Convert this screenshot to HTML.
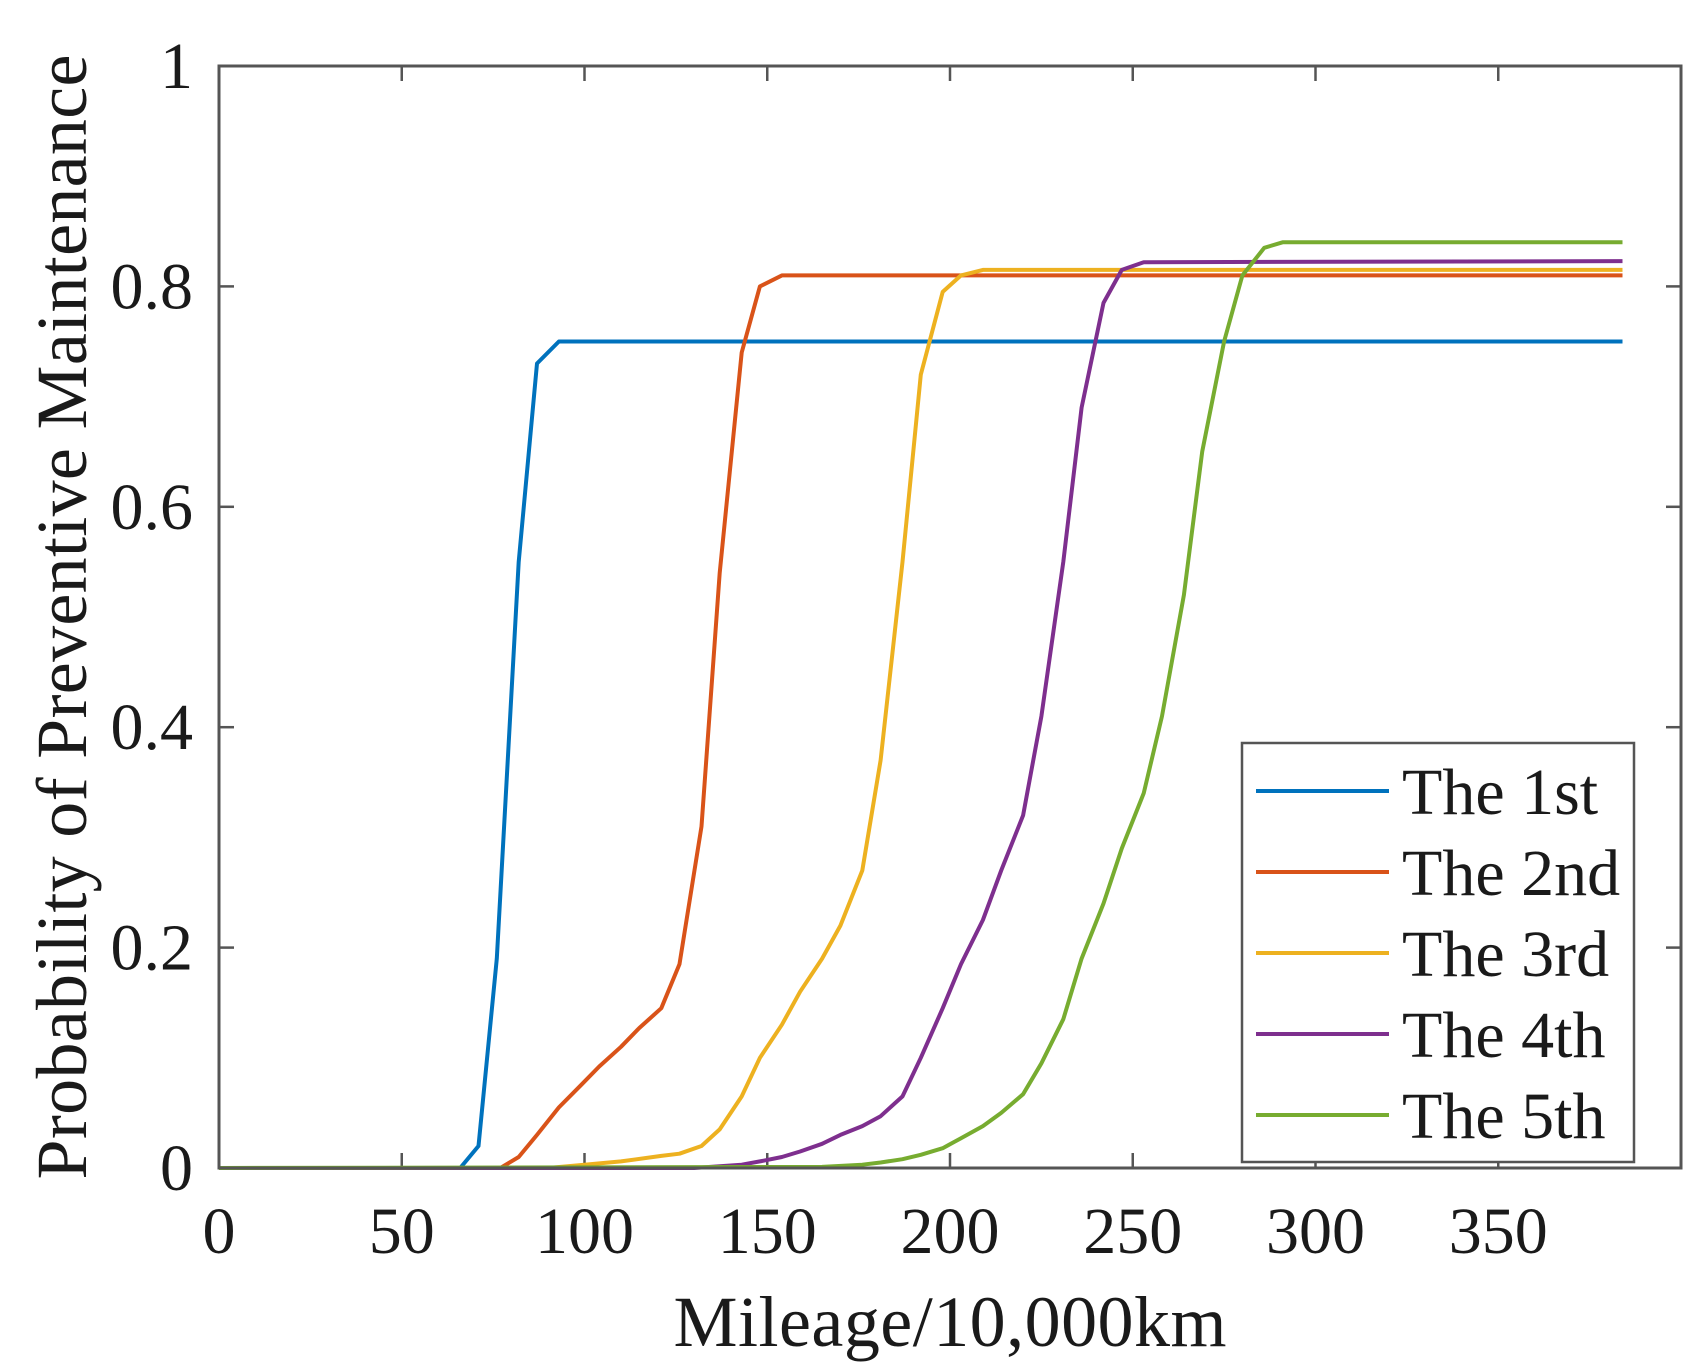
<!DOCTYPE html>
<html><head><meta charset="utf-8"><style>
html,body{margin:0;padding:0;background:#fff;}
svg{display:block;}
text{font-family:"Liberation Serif",serif;fill:#1a1a1a;}
</style></head><body>
<svg id="s" width="1704" height="1372" viewBox="0 0 1704 1372" xmlns="http://www.w3.org/2000/svg">
<rect width="1704" height="1372" fill="#fff"/>
<g id="ticks" stroke="#555" stroke-width="2.5"></g>
<g id="series" fill="none" stroke-width="4" stroke-linejoin="round"></g>
<rect x="219" y="66" width="1462" height="1102" fill="none" stroke="#555" stroke-width="3"/>
<g id="labels" font-size="66"></g>
<text x="950" y="1346" font-size="72" text-anchor="middle" textLength="553">Mileage/10,000km</text>
<text transform="translate(86,617) rotate(-90)" font-size="72" text-anchor="middle" textLength="1125">Probability of Preventive Maintenance</text>
<rect x="1242" y="743" width="392" height="419" fill="#fff" stroke="#555" stroke-width="2.5"/>
<g font-size="66">
<line x1="1256" y1="791" x2="1389" y2="791" stroke="#0072BD" stroke-width="4"/>
<text x="1402" y="814">The 1st</text>
<line x1="1256" y1="872" x2="1389" y2="872" stroke="#D95319" stroke-width="4"/>
<text x="1402" y="895">The 2nd</text>
<line x1="1256" y1="953" x2="1389" y2="953" stroke="#EDB120" stroke-width="4"/>
<text x="1402" y="976">The 3rd</text>
<line x1="1256" y1="1034" x2="1389" y2="1034" stroke="#7E2F8E" stroke-width="4"/>
<text x="1402" y="1057">The 4th</text>
<line x1="1256" y1="1115" x2="1389" y2="1115" stroke="#77AC30" stroke-width="4"/>
<text x="1402" y="1138">The 5th</text>
</g>
</svg>
<script>
var NS="http://www.w3.org/2000/svg";
function X(v){return 219+v*1462/400;}
function Y(p){return 1168-p*1102;}
function el(t,a,par){var e=document.createElementNS(NS,t);for(var k in a)e.setAttribute(k,a[k]);document.getElementById(par).appendChild(e);return e;}
for(var v=0;v<=400;v+=50){var x=X(v);
 el("line",{x1:x,y1:1168,x2:x,y2:1153},"ticks");el("line",{x1:x,y1:66,x2:x,y2:81},"ticks");
 if(v<400){var t=el("text",{x:x,y:1253,"text-anchor":"middle"},"labels");t.textContent=v;}}
var yl=["0","0.2","0.4","0.6","0.8","1"];
for(var i=0;i<=5;i++){var y=Y(i*0.2);
 el("line",{x1:219,y1:y,x2:234,y2:y},"ticks");el("line",{x1:1681,y1:y,x2:1666,y2:y},"ticks");
 var t=el("text",{x:193,y:y+22,"text-anchor":"end"},"labels");t.textContent=yl[i];}
var S=[
["#0072BD",[[0,0],[66,0],[71,0.02],[76,0.19],[82,0.55],[87,0.73],[93,0.75],[384,0.75]]],
["#D95319",[[0,0],[77,0],[82,0.01],[87,0.03],[93,0.055],[99,0.075],[104,0.092],[110,0.11],[115,0.127],[121,0.145],[126,0.185],[132,0.31],[137,0.54],[143,0.74],[148,0.80],[154,0.81],[384,0.81]]],
["#EDB120",[[0,0],[90,0],[100,0.003],[110,0.006],[121,0.011],[126,0.013],[132,0.02],[137,0.035],[143,0.065],[148,0.1],[154,0.13],[159,0.16],[165,0.19],[170,0.22],[176,0.27],[181,0.37],[187,0.55],[192,0.72],[198,0.795],[203,0.81],[209,0.815],[384,0.815]]],
["#7E2F8E",[[0,0],[130,0],[143,0.003],[148,0.006],[154,0.01],[159,0.015],[165,0.022],[170,0.03],[176,0.038],[181,0.047],[187,0.065],[192,0.1],[198,0.145],[203,0.185],[209,0.225],[214,0.27],[220,0.32],[225,0.41],[231,0.55],[236,0.69],[242,0.785],[247,0.815],[253,0.822],[384,0.823]]],
["#77AC30",[[0,0],[165,0.001],[176,0.003],[181,0.005],[187,0.008],[192,0.012],[198,0.018],[203,0.027],[209,0.038],[214,0.05],[220,0.067],[225,0.095],[231,0.135],[236,0.19],[242,0.24],[247,0.29],[253,0.34],[258,0.41],[264,0.52],[269,0.65],[275,0.75],[280,0.81],[286,0.835],[291,0.84],[384,0.84]]]];
S.forEach(function(s){el("polyline",{points:s[1].map(function(p){return X(p[0]).toFixed(1)+","+Y(p[1]).toFixed(1);}).join(" "),stroke:s[0]},"series");});
</script>
</body></html>
